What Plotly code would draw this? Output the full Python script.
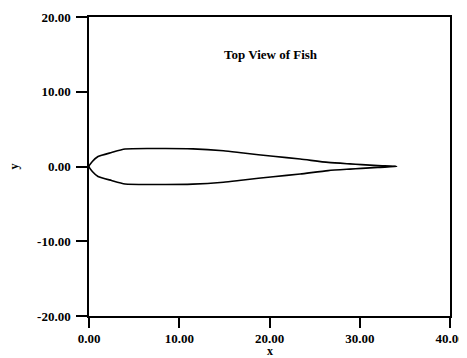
import plotly.graph_objects as go

# Top outline of the fish (upper half)
x_top = [0.0, 0.37, 1.0, 2.5, 4.0, 6.9, 11.5, 14.9, 17.1, 20.4, 23.4, 26.5, 28.9, 30.2, 32.0, 34.1]
y_top = [0.0, 0.67, 1.33, 1.87, 2.33, 2.4, 2.36, 2.1, 1.8, 1.37, 1.0, 0.55, 0.35, 0.25, 0.12, 0.0]
# Lower half mirrors the upper half
x_bot = x_top[::-1]
y_bot = [-v for v in y_top[::-1]]

x_ticks = [0, 10, 20, 30, 40]
x_labels = ["0.00", "10.00", "20.00", "30.00", "40.00"]
y_ticks = [-20, -10, 0, 10, 20]
y_labels = ["-20.00", "-10.00", "0.00", "10.00", "20.00"]
title_text = "Top View of Fish"

font_family = "Liberation Serif"

fig = go.Figure()
fig.add_trace(go.Scatter(
    x=x_top + x_bot[1:], y=y_top + y_bot[1:],
    mode="lines", line=dict(color="black", width=1.6, shape="spline", smoothing=0.6),
    showlegend=False, hoverinfo="skip",
))

axis_common = dict(
    showgrid=False, zeroline=False, automargin=False,
    showline=True, linecolor="black", linewidth=1.5, mirror=True,
    ticks="outside", tickwidth=1.5, tickcolor="black",
    ticklabeloverflow="allow",
    tickfont=dict(family=font_family, size=13, color="black", weight="bold"),
)

fig.update_layout(
    width=467, height=350,
    margin=dict(l=81, r=25, t=9, b=42),
    plot_bgcolor="white", paper_bgcolor="white",
    xaxis=dict(range=[0, 40], tickvals=x_ticks, ticktext=x_labels,
               ticklen=10, ticklabelstandoff=0, **axis_common),
    yaxis=dict(range=[-20, 20], tickvals=y_ticks, ticktext=y_labels,
               ticklen=11, ticklabelstandoff=3, **axis_common),
    annotations=[
        dict(text="<b>" + title_text + "</b>", x=0.505, y=0.876,
             xref="paper", yref="paper", showarrow=False,
             xanchor="center", yanchor="middle",
             font=dict(family=font_family, size=13, color="black")),
        dict(text="<b>x</b>", x=0.5, y=-0.117,
             xref="paper", yref="paper", showarrow=False,
             xanchor="center", yanchor="middle",
             font=dict(family=font_family, size=12, color="black")),
        dict(text="<b>y</b>", x=-0.208, y=0.5, textangle=-90,
             xref="paper", yref="paper", showarrow=False,
             xanchor="center", yanchor="middle",
             font=dict(family=font_family, size=12, color="black")),
    ],
)

fig.write_html("out.html")
